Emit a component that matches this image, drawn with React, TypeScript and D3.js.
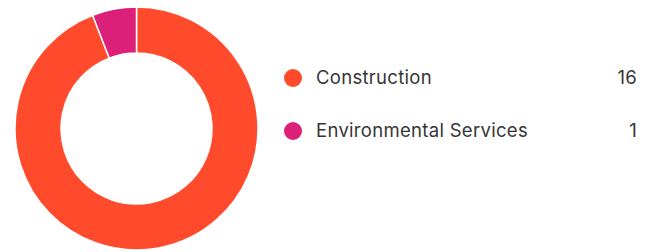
import * as d3 from 'd3'

const categories = ['Construction', 'Environmental Services']
const counts = [16, 1]
const colors = ['#FF4B2C', '#DC1F79']

export default function App() {
  const width = 652
  const height = 252
  const cx = 136.5
  const cy = 128.5
  const outerR = 121.5
  const innerR = 75.5

  const pie = d3.pie<number>().sort(null).value(d => d)
  const arcs = pie(counts)
  const arc = d3.arc<d3.PieArcDatum<number>>().innerRadius(innerR).outerRadius(outerR)

  const legendY = d3.scalePoint<string>().domain(categories).range([78, 131])

  const font = { fontFamily: 'Inter, sans-serif', fontSize: 18.5, letterSpacing: 0.3, fill: '#363636' }

  return (
    <svg width={width} height={height} style={{ position: 'absolute', left: 0, top: 0 }}>
      <g transform={`translate(${cx},${cy})`}>
        {arcs.map((a, i) => (
          <path key={i} d={arc(a) || ''} fill={colors[i]} stroke="#fff" strokeWidth={1.5} />
        ))}
      </g>
      {categories.map((c, i) => (
        <g key={c} transform={`translate(0,${legendY(c)})`}>
          <circle cx={293} cy={0} r={9} fill={colors[i]} />
          <text x={316} y={0} dy="0.35em" {...font}>
            {c}
          </text>
          <text x={637} y={0} dy="0.35em" textAnchor="end" {...font}>
            {counts[i]}
          </text>
        </g>
      ))}
    </svg>
  )
}
